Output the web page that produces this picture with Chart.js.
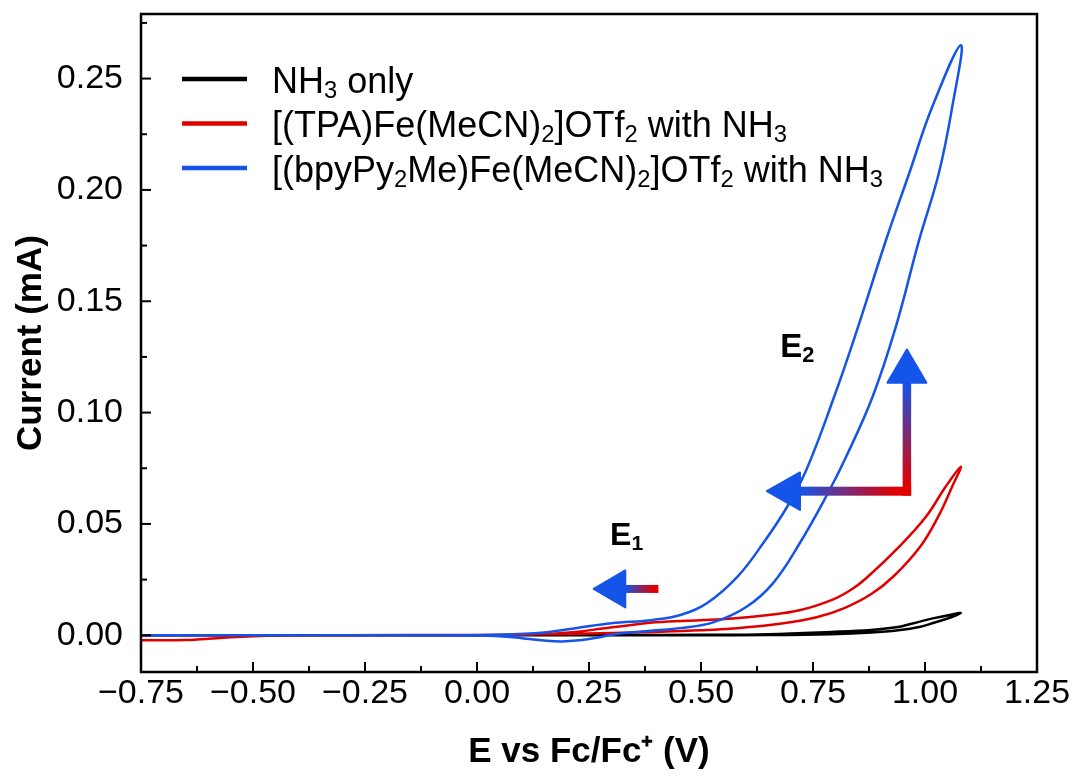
<!DOCTYPE html>
<html>
<head>
<meta charset="utf-8">
<script src="https://cdn.jsdelivr.net/npm/chart.js@4.4.1/dist/chart.umd.min.js"></script>
<style>
html, body { margin: 0; padding: 0; background: #fff; }
</style>
</head>
<body>
<canvas id="cv" width="1073" height="776"></canvas>
<script>
// cyclic voltammograms, E (V vs Fc/Fc+) and current (mA)
// forward scan goes up to the switching potential, reverse comes back
const blackFwdE = [-0.75, -0.40, 0.00, 0.30, 0.50, 0.65, 0.79, 0.88, 0.94, 0.99, 1.02, 1.06, 1.08];
const blackFwdI = [0, 0, 0, 0, 0, 0.0001, 0.0005, 0.0012, 0.0022, 0.0038, 0.0056, 0.0082, 0.0100];
const blackRevE = [1.06, 1.02, 0.97, 0.94, 0.88, 0.79, 0.65, 0.50, 0.30, 0.00, -0.40, -0.75];
const blackRevI = [0.0093, 0.0077, 0.0052, 0.0037, 0.0024, 0.0015, 0.0005, 0.0002, 0.0001, 0, 0, 0];

const redFwdE = [-0.75, -0.65, -0.58, -0.50, -0.30, 0.00, 0.10, 0.20, 0.30, 0.40, 0.50, 0.57, 0.68, 0.76, 0.82, 0.88, 0.93, 0.99, 1.03, 1.06, 1.08];
const redFwdI = [-0.0022, -0.0021, -0.0013, -0.0004, 0, 0.0001, 0.0003, 0.0006, 0.0010, 0.0015, 0.0022, 0.0030, 0.0053, 0.0082, 0.0122, 0.0185, 0.0265, 0.0400, 0.0535, 0.0665, 0.0757];
const redRevE = [1.046, 1.002, 0.942, 0.868, 0.834, 0.794, 0.720, 0.646, 0.571, 0.497, 0.40, 0.34, 0.28, 0.22, 0.16, 0.10, 0.03, -0.10, -0.40, -0.75];
const redRevI = [0.0667, 0.0532, 0.0397, 0.0255, 0.0203, 0.0160, 0.0112, 0.0090, 0.0075, 0.0067, 0.0058, 0.0045, 0.0030, 0.0015, 0.0006, 0.0002, 0.0001, 0, 0, 0];

const blueFwdE = [-0.75, -0.40, -0.10, 0.00, 0.05, 0.10, 0.15, 0.19, 0.23, 0.27, 0.30, 0.34, 0.40, 0.453, 0.527, 0.601, 0.660, 0.720, 0.779, 0.824, 0.883, 0.935, 0.987, 1.031, 1.061, 1.08];
const blueFwdI = [0, 0, 0, -0.0001, -0.0004, -0.0013, -0.0024, -0.0028, -0.0022, -0.0010, 0.0002, 0.0012, 0.0022, 0.0032, 0.0058, 0.0127, 0.0232, 0.0412, 0.0622, 0.0802, 0.1071, 0.1386, 0.1776, 0.2076, 0.2375, 0.2650];
const blueRevE = [1.016, 0.965, 0.913, 0.846, 0.797, 0.735, 0.692, 0.639, 0.581, 0.514, 0.454, 0.393, 0.30, 0.23, 0.15, 0.05, -0.10, -0.40, -0.75];
const blueRevI = [0.2372, 0.2076, 0.1775, 0.1357, 0.1070, 0.0742, 0.0576, 0.0414, 0.0262, 0.0145, 0.0091, 0.0069, 0.0054, 0.0035, 0.0012, 0.0002, 0, 0, 0];

const labels = [
  'NH_{3} only',
  '[(TPA)Fe(MeCN)_{2}]OTf_{2} with NH_{3}',
  '[(bpyPy_{2}Me)Fe(MeCN)_{2}]OTf_{2} with NH_{3}'
];
const colors = ['#000000', '#e00000', '#1554e8'];

const xTicks = [-0.75, -0.5, -0.25, 0, 0.25, 0.5, 0.75, 1.0, 1.25];
const yTicks = [0, 0.05, 0.10, 0.15, 0.20, 0.25];

const FONT = '"Liberation Sans", Arial, sans-serif';
const RED = '#e00000', BLUE = '#1554e8';

function loop(fe, fi, re, ri) {
  const pts = fe.map((e, i) => ({x: e, y: fi[i]}));
  return pts.concat(re.map((e, i) => ({x: e, y: ri[i]})));
}

// text with _{sub} and ^{sup}
function drawRich(ctx, str, x, y, size, weight) {
  const parts = str.split(/(_\{[^}]*\}|\^\{[^}]*\})/).filter(s => s.length);
  let cx = x;
  for (const p of parts) {
    let t = p, s = size, dy = 0;
    if (p.startsWith('_{')) { t = p.slice(2, -1); s = size * 0.66; dy = size * 0.15; }
    else if (p.startsWith('^{')) { t = p.slice(2, -1); s = size * 0.66; dy = -size * 0.42; }
    ctx.font = weight + ' ' + s + 'px ' + FONT;
    ctx.fillText(t, cx, y + dy);
    cx += ctx.measureText(t).width;
  }
}

function hArrow(ctx, tail, base, tip, yc, w, hh) {
  const g = ctx.createLinearGradient(tail, 0, base, 0);
  g.addColorStop(0, RED);
  g.addColorStop(0.15, RED);
  g.addColorStop(1, BLUE);
  ctx.fillStyle = g;
  ctx.fillRect(Math.min(base, tail) - 1, yc - w / 2, Math.abs(tail - base) + 1, w);
  ctx.fillStyle = BLUE; ctx.strokeStyle = BLUE; ctx.lineWidth = 2; ctx.lineJoin = 'round';
  ctx.beginPath();
  ctx.moveTo(tip, yc); ctx.lineTo(base, yc - hh); ctx.lineTo(base, yc + hh); ctx.closePath();
  ctx.fill(); ctx.stroke();
}

function vArrow(ctx, tail, base, tip, xc, w, hh) {
  const g = ctx.createLinearGradient(0, tail, 0, base);
  g.addColorStop(0, RED);
  g.addColorStop(0.1, RED);
  g.addColorStop(1, BLUE);
  ctx.fillStyle = g;
  ctx.fillRect(xc - w / 2, base, w, tail - base);
  ctx.fillStyle = BLUE; ctx.strokeStyle = BLUE; ctx.lineWidth = 2; ctx.lineJoin = 'round';
  ctx.beginPath();
  ctx.moveTo(xc, tip); ctx.lineTo(xc - hh, base); ctx.lineTo(xc + hh, base); ctx.closePath();
  ctx.fill(); ctx.stroke();
}

const frame = {
  id: 'frame',
  afterDatasetsDraw(chart) {
    const {ctx, chartArea: a, scales: {x, y}} = chart;
    ctx.save();
    ctx.strokeStyle = '#000';
    ctx.lineWidth = 2;
    // inward ticks, minor halfway between majors
    for (let k = 0; k <= 16; k++) {
      const px = x.getPixelForValue(-0.75 + k * 0.125);
      ctx.beginPath(); ctx.moveTo(px, a.bottom); ctx.lineTo(px, a.bottom - (k % 2 ? 6 : 10)); ctx.stroke();
    }
    for (let k = 0; k <= 11; k++) {
      const py = y.getPixelForValue(k * 0.025);
      ctx.beginPath(); ctx.moveTo(a.left, py); ctx.lineTo(a.left + (k % 2 ? 6 : 10), py); ctx.stroke();
    }
    ctx.lineWidth = 2.5;
    ctx.strokeRect(a.left, a.top, a.right - a.left, a.bottom - a.top);

    // legend
    ctx.textBaseline = 'alphabetic';
    labels.forEach((lab, i) => {
      const ly = a.top + 65 + i * 44.5;
      ctx.strokeStyle = colors[i];
      ctx.lineWidth = 4.5;
      ctx.beginPath(); ctx.moveTo(a.left + 41, ly); ctx.lineTo(a.left + 106, ly); ctx.stroke();
      ctx.fillStyle = '#000';
      drawRich(ctx, lab, a.left + 131, ly + 13.5, 36, 'normal');
    });

    // E1 arrow and label
    hArrow(ctx, x.getPixelForValue(0.405), x.getPixelForValue(0.331), x.getPixelForValue(0.2605),
      y.getPixelForValue(0.0208), 8, 18.5);
    ctx.fillStyle = '#000';
    drawRich(ctx, 'E_{1}', x.getPixelForValue(0.297), y.getPixelForValue(0.0405), 32, 'bold');

    // E2 L-shaped arrow and label
    const cx = x.getPixelForValue(0.9596), cy = y.getPixelForValue(0.0647);
    vArrow(ctx, cy + 4.5, y.getPixelForValue(0.1134), y.getPixelForValue(0.1283), cx, 8.5, 19.5);
    hArrow(ctx, cx + 4.25, x.getPixelForValue(0.721), x.getPixelForValue(0.647), cy, 9, 18.7);
    ctx.fillStyle = '#000';
    drawRich(ctx, 'E_{2}', x.getPixelForValue(0.677), y.getPixelForValue(0.125), 33, 'bold');
    ctx.restore();
  }
};

const fmt = v => v.toFixed(2).replace('-', '\u2212');

new Chart(document.getElementById('cv'), {
  type: 'scatter',
  data: {
    datasets: [
      {label: 'NH3 only', data: loop(blackFwdE, blackFwdI, blackRevE, blackRevI), borderColor: colors[0], order: 2},
      {label: '[(TPA)Fe(MeCN)2]OTf2 with NH3', data: loop(redFwdE, redFwdI, redRevE, redRevI), borderColor: colors[1], order: 1},
      {label: '[(bpyPy2Me)Fe(MeCN)2]OTf2 with NH3', data: loop(blueFwdE, blueFwdI, blueRevE, blueRevI), borderColor: colors[2], order: 0}
    ].map(d => Object.assign(d, {showLine: true, pointRadius: 0, borderWidth: 2.5, tension: 0.4, fill: false}))
  },
  options: {
    responsive: false,
    animation: false,
    layout: {padding: {top: 14, right: 36, left: 0, bottom: 0}},
    plugins: {legend: {display: false}, tooltip: {enabled: false}},
    scales: {
      x: {
        type: 'linear', min: -0.75, max: 1.25,
        afterFit: s => { s.height = 104; s.paddingLeft = 0; s.paddingRight = 0; },
        afterBuildTicks: s => { s.ticks = xTicks.map(v => ({value: v})); },
        grid: {display: false, drawTicks: false},
        border: {display: false},
        ticks: {padding: 1, autoSkip: false, maxRotation: 0, color: '#000', font: {size: 34, family: FONT}, callback: fmt},
        title: {display: true, text: 'E vs Fc/Fc\u207A (V)', color: '#000', padding: {top: 0, bottom: 3}, font: {size: 35, weight: 'bold', family: FONT}}
      },
      y: {
        type: 'linear', min: -0.0165, max: 0.279,
        afterFit: s => { s.width = 141; s.paddingTop = 0; s.paddingBottom = 0; },
        afterBuildTicks: s => { s.ticks = yTicks.map(v => ({value: v})); },
        grid: {display: false, drawTicks: false},
        border: {display: false},
        ticks: {padding: 18, color: '#000', font: {size: 34, family: FONT}, callback: fmt},
        title: {display: true, text: 'Current (mA)', color: '#000', padding: {top: 10, bottom: 0}, font: {size: 35, weight: 'bold', family: FONT}}
      }
    }
  },
  plugins: [frame]
});
</script>
</body>
</html>
